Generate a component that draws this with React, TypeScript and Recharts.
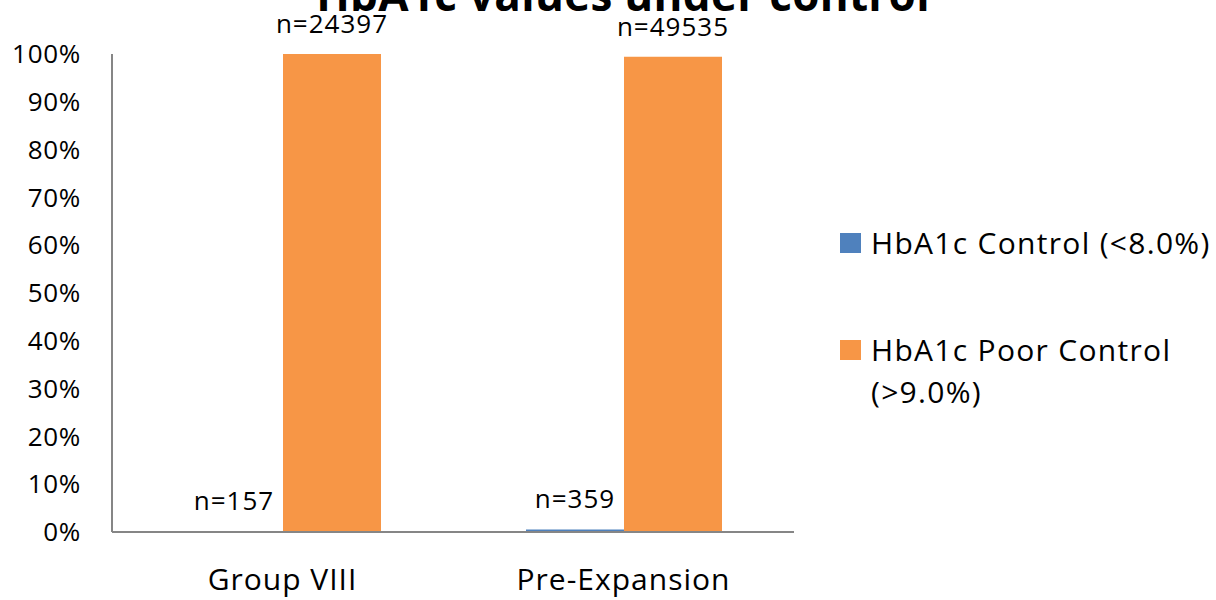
import React from 'react';
import { BarChart, Bar, XAxis, YAxis, Legend, LabelList } from 'recharts';

// Share of patients in each HbA1c band, per cohort (percent)
const categories = ['Group VIII', 'Pre-Expansion'];
const controlPct = [0.1, 0.5];
const poorPct = [100, 99.4];
// Patient counts shown above each bar
const controlCount = [157, 359];
const poorCount = [24397, 49535];
const yTicks = [0, 10, 20, 30, 40, 50, 60, 70, 80, 90, 100];

const seriesNames = ['HbA1c Control (<8.0%)', 'HbA1c Poor Control (>9.0%)'];
const seriesColors = ['#4F81BD', '#F79646'];

const data = categories.map((name, i) => ({
  name,
  control: controlPct[i],
  poor: poorPct[i],
  controlN: controlCount[i],
  poorN: poorCount[i],
}));

const FONT = '"Open Sans", sans-serif';
const AXIS_GREY = '#868686';

const LegendBox = (props: any) => {
  const payload = props.payload || [];
  return (
    <div style={{ fontFamily: FONT, fontSize: 30, letterSpacing: 1.3, color: '#000', lineHeight: '42px' }}>
      {payload.map((entry: any, i: number) => (
        <div key={entry.value} style={{ display: 'flex', alignItems: 'flex-start', marginTop: i === 0 ? 0 : 65 }}>
          <div style={{ width: 21, height: 20, background: entry.color, marginTop: 11, marginRight: 10, flex: 'none' }} />
          <div style={{ width: 356, whiteSpace: i === 0 ? 'nowrap' : 'normal' }}>{entry.value}</div>
        </div>
      ))}
    </div>
  );
};

export default function App() {
  return (
    <div style={{ position: 'absolute', left: 0, top: 0, width: 1216, height: 600, background: '#fff', overflow: 'hidden' }}>
      <BarChart
        width={1216}
        height={600}
        data={data}
        margin={{ top: 54, right: 422, bottom: 38, left: 0 }}
        barSize={98}
        barGap={0}
      >
        <text
          x={623}
          y={11}
          textAnchor="middle"
          style={{ fontFamily: FONT, fontWeight: 700, fontSize: 44, fill: '#000', letterSpacing: 0.3 }}
        >
          HbA1c values under control
        </text>
        <XAxis
          dataKey="name"
          height={30}
          axisLine={{ stroke: AXIS_GREY, strokeWidth: 2 }}
          tickLine={false}
          tickSize={0}
          tickMargin={37}
          tick={{ fontFamily: FONT, fontSize: 30, fill: '#000', letterSpacing: 1 }}
        />
        <YAxis
          width={112}
          domain={[0, 100]}
          ticks={yTicks}
          interval={0}
          tickFormatter={(v: number) => `${v}%`}
          axisLine={{ stroke: AXIS_GREY, strokeWidth: 2 }}
          tickLine={false}
          tickSize={0}
          tickMargin={31}
          tick={{ fontFamily: FONT, fontSize: 26, fill: '#000', letterSpacing: 0.7 }}
        />
        <Legend
          layout="vertical"
          align="center"
          verticalAlign="middle"
          content={<LegendBox />}
          wrapperStyle={{ left: 840, top: 222, width: 390 }}
        />
        <Bar dataKey="control" name={seriesNames[0]} fill={seriesColors[0]} isAnimationActive={false}>
          <LabelList
            dataKey="controlN"
            position="top"
            offset={22}
            formatter={(v: any) => `n=${v}`}
            style={{ fontFamily: FONT, fontSize: 26, fill: '#000', letterSpacing: 1 }}
          />
        </Bar>
        <Bar dataKey="poor" name={seriesNames[1]} fill={seriesColors[1]} isAnimationActive={false}>
          <LabelList
            dataKey="poorN"
            position="top"
            offset={21}
            formatter={(v: any) => `n=${v}`}
            style={{ fontFamily: FONT, fontSize: 26, fill: '#000', letterSpacing: 1 }}
          />
        </Bar>
      </BarChart>
    </div>
  );
}
